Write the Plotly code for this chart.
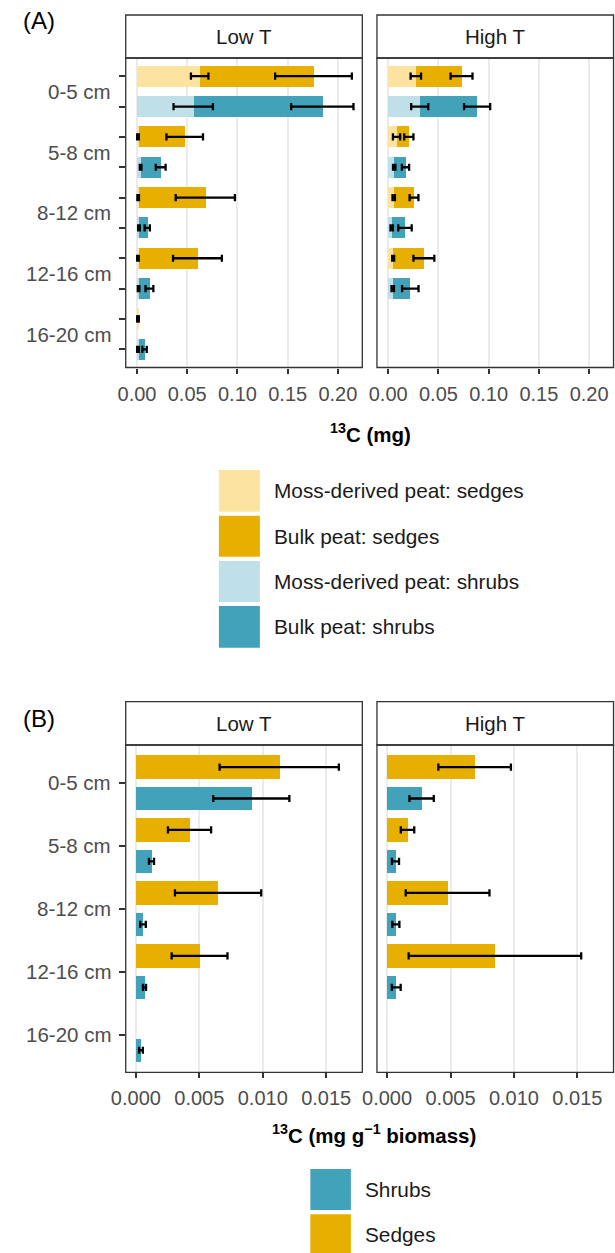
import plotly.graph_objects as go

W, H = 615, 1253

depths = ["0-5 cm", "5-8 cm", "8-12 cm", "12-16 cm", "16-20 cm"]
temps = ["Low T", "High T"]

# ---- Panel A: 13C (mg) ----
moss_sedge_low = [0.0624, 0.0010, 0.0012, 0.0010, 0.0008]
moss_sedge_low_err = [0.0087, 0.0008, 0.0008, 0.0008, 0.0006]
bulk_sedge_low = [0.1757, 0.0475, 0.0680, 0.0602, 0.0013]
bulk_sedge_low_err = [0.0382, 0.0182, 0.0295, 0.0243, 0.0005]
moss_shrub_low = [0.0560, 0.0036, 0.0020, 0.0016, 0.0010]
moss_shrub_low_err = [0.0196, 0.0008, 0.0008, 0.0008, 0.0008]
bulk_shrub_low = [0.1845, 0.0236, 0.0102, 0.0124, 0.0075]
bulk_shrub_low_err = [0.0310, 0.0049, 0.0026, 0.0039, 0.0022]

moss_sedge_high = [0.0275, 0.0083, 0.0055, 0.0049, None]
moss_sedge_high_err = [0.0052, 0.0036, 0.0012, 0.0010, None]
bulk_sedge_high = [0.0730, 0.0205, 0.0257, 0.0355, None]
bulk_sedge_high_err = [0.0109, 0.0046, 0.0044, 0.0104, None]
moss_shrub_high = [0.0314, 0.0060, 0.0035, 0.0045, None]
moss_shrub_high_err = [0.0085, 0.0012, 0.0012, 0.0012, None]
bulk_shrub_high = [0.0885, 0.0172, 0.0167, 0.0220, None]
bulk_shrub_high_err = [0.0130, 0.0036, 0.0067, 0.0082, None]

# ---- Panel B: 13C (mg g-1 biomass) ----
shrubs_low = [0.00910, 0.00123, 0.00056, 0.00068, 0.00040]
shrubs_low_err = [0.00300, 0.00020, 0.00022, 0.00012, 0.00015]
sedges_low = [0.01130, 0.00423, 0.00648, 0.00502, None]
sedges_low_err = [0.00470, 0.00170, 0.00340, 0.00220, None]
shrubs_high = [0.00272, 0.00066, 0.00069, 0.00072, None]
shrubs_high_err = [0.00096, 0.00028, 0.00028, 0.00035, None]
sedges_high = [0.00690, 0.00161, 0.00477, 0.00850, None]
sedges_high_err = [0.00286, 0.00053, 0.00330, 0.00680, None]

ticks_A = [0.0, 0.05, 0.10, 0.15, 0.20]
ticks_B = [0.0, 0.005, 0.010, 0.015]

C_SED = "#E7B000"
C_SED_L = "#FCE4A0"
C_SHR = "#42A2BA"
C_SHR_L = "#BFE0E9"
LEG_A = [("Moss-derived peat: sedges", C_SED_L), ("Bulk peat: sedges", C_SED),
         ("Moss-derived peat: shrubs", C_SHR_L), ("Bulk peat: shrubs", C_SHR)]
LEG_B = [("Shrubs", C_SHR), ("Sedges", C_SED)]

FONT = "Liberation Sans, Arial, sans-serif"
GREY_TXT = "#4D4D4D"
BORDER = "#333333"
FS = 20.5
FS_TICK = 20
FS_LEG = 20.8


def px(x):
    return x / W


def py(y):
    return 1 - y / H


def clean(xs, ys, es=None):
    out = [(x, y, (es[i] if es else None)) for i, (x, y) in enumerate(zip(xs, ys)) if x is not None]
    return [o[0] for o in out], [o[1] for o in out], [o[2] for o in out]


fig = go.Figure()


def add_bar(vals, rows, color, xa, ya, width):
    x, y, _ = clean(vals, rows)
    fig.add_trace(go.Bar(x=x, y=y, orientation="h", width=width, marker=dict(color=color, line=dict(width=0)),
                         opacity=1, xaxis=xa, yaxis=ya, showlegend=False, hoverinfo="x"))


def add_err(vals, rows, errs, xa, ya):
    x, y, e = clean(vals, rows, errs)
    fig.add_trace(go.Scatter(x=x, y=y, mode="markers", marker=dict(size=1, opacity=0),
                             error_x=dict(type="data", array=e, visible=True, color="black", thickness=2.3, width=3.6),
                             xaxis=xa, yaxis=ya, showlegend=False, hoverinfo="skip"))


rows_sed_A = [2 * i for i in range(5)]
rows_shr_A = [2 * i + 1 for i in range(5)]
wA = 0.69

for (bs, bse, ms, mse, bh, bhe, mh, mhe, xa, ya) in [
    (bulk_sedge_low, bulk_sedge_low_err, moss_sedge_low, moss_sedge_low_err,
     bulk_shrub_low, bulk_shrub_low_err, moss_shrub_low, moss_shrub_low_err, "x", "y"),
    (bulk_sedge_high, bulk_sedge_high_err, moss_sedge_high, moss_sedge_high_err,
     bulk_shrub_high, bulk_shrub_high_err, moss_shrub_high, moss_shrub_high_err, "x2", "y2")]:
    add_bar(bs, rows_sed_A, C_SED, xa, ya, wA)
    add_bar(bh, rows_shr_A, C_SHR, xa, ya, wA)
    add_bar(ms, rows_sed_A, C_SED_L, xa, ya, wA)
    add_bar(mh, rows_shr_A, C_SHR_L, xa, ya, wA)
    add_err(ms, rows_sed_A, mse, xa, ya)
    add_err(bs, rows_sed_A, bse, xa, ya)
    add_err(mh, rows_shr_A, mhe, xa, ya)
    add_err(bh, rows_shr_A, bhe, xa, ya)

rows_sed_B = [i - 0.25 for i in range(5)]
rows_shr_B = [i + 0.25 for i in range(5)]
wB = 0.37
for (sd, sde, sh, she, xa, ya) in [(sedges_low, sedges_low_err, shrubs_low, shrubs_low_err, "x3", "y3"),
                                   (sedges_high, sedges_high_err, shrubs_high, shrubs_high_err, "x4", "y4")]:
    add_bar(sd, rows_sed_B, C_SED, xa, ya, wB)
    add_bar(sh, rows_shr_B, C_SHR, xa, ya, wB)
    add_err(sd, rows_sed_B, sde, xa, ya)
    add_err(sh, rows_shr_B, she, xa, ya)

# geometry (pixels)
XL = (113.5, 356.0)
XH = (371.0, 613.5)
A_STRIP = (15.0, 58.0)
A_PLOT = (58.0, 367.5)
B_STRIP = (701.7, 745.0)
B_PLOT = (745.0, 1072.3)


def xaxis(dom, anchor, rng, ticks, fmt):
    return dict(domain=[px(dom[0]), px(dom[1])], anchor=anchor, range=rng, tickvals=ticks,
                ticktext=[fmt.format(t) for t in ticks], ticks="outside", ticklen=5, tickwidth=1.6,
                tickcolor=BORDER, showgrid=True, gridcolor="#EBEBEB", gridwidth=1.5, zeroline=False,
                showline=False, tickfont=dict(family=FONT, size=FS_TICK, color=GREY_TXT), ticklabelstandoff=3,
                fixedrange=True)


def yaxis(dom, anchor, rng, tv, show_ticks):
    return dict(domain=[py(dom[1]), py(dom[0])], anchor=anchor, range=rng, tickvals=tv,
                showticklabels=False, ticks="outside" if show_ticks else "", ticklen=6, tickwidth=1.6,
                tickcolor=BORDER, showgrid=False, zeroline=False, showline=False, fixedrange=True)


rA = [-0.0112, 0.2243]
rB = [-0.0008, 0.01785]
fig.update_layout(
    xaxis=xaxis(XL, "y", rA, ticks_A, "{:.2f}"),
    xaxis2=xaxis(XH, "y2", rA, ticks_A, "{:.2f}"),
    xaxis3=xaxis(XL, "y3", rB, ticks_B, "{:.3f}"),
    xaxis4=xaxis(XH, "y4", rB, ticks_B, "{:.3f}"),
    yaxis=yaxis(A_PLOT, "x", [9.6, -0.6], list(range(10)), True),
    yaxis2=yaxis(A_PLOT, "x2", [9.6, -0.6], list(range(10)), False),
    yaxis3=yaxis(B_PLOT, "x3", [4.6, -0.6], list(range(5)), True),
    yaxis4=yaxis(B_PLOT, "x4", [4.6, -0.6], list(range(5)), False),
)

shapes = []
annotations = []
for strip, plot in [(A_STRIP, A_PLOT), (B_STRIP, B_PLOT)]:
    for (xd, lab) in [(XL, "Low T"), (XH, "High T")]:
        shapes.append(dict(type="rect", xref="paper", yref="paper", x0=px(xd[0]), x1=px(xd[1]),
                           y0=py(strip[1]), y1=py(strip[0]), fillcolor="white",
                           line=dict(color=BORDER, width=1.3), layer="above"))
        shapes.append(dict(type="rect", xref="paper", yref="paper", x0=px(xd[0]), x1=px(xd[1]),
                           y0=py(plot[1]), y1=py(plot[0]), fillcolor="rgba(0,0,0,0)",
                           line=dict(color=BORDER, width=1.3), layer="above"))
        annotations.append(dict(text=lab, xref="paper", yref="paper", x=px((xd[0] + xd[1]) / 2),
                                y=py((strip[0] + strip[1]) / 2), showarrow=False, xanchor="center",
                                yanchor="middle", font=dict(family=FONT, size=FS, color="#1A1A1A")))

# depth labels
for i, d in enumerate(depths):
    annotations.append(dict(text=d, xref="paper", yref="y", x=px(100), y=2 * i + 0.5, showarrow=False,
                            xanchor="right", yanchor="middle", font=dict(family=FONT, size=FS, color=GREY_TXT)))
    annotations.append(dict(text=d, xref="paper", yref="y3", x=px(100), y=i, showarrow=False,
                            xanchor="right", yanchor="middle", font=dict(family=FONT, size=FS, color=GREY_TXT)))

# panel labels
for lab, yc in [("(A)", 20.7), ("(B)", 718.3)]:
    annotations.append(dict(text=lab, xref="paper", yref="paper", x=px(6), y=py(yc), showarrow=False,
                            xanchor="left", yanchor="middle", font=dict(family=FONT, size=24, color="black")))

# axis titles
annotations.append(dict(text="<b><sup>13</sup>C (mg)</b>", xref="paper", yref="paper", x=px(364), y=py(433),
                        showarrow=False, xanchor="center", yanchor="middle",
                        font=dict(family=FONT, size=FS, color="black")))
annotations.append(dict(text="<b><sup>13</sup>C (mg g<sup>\u22121</sup> biomass)</b>", xref="paper", yref="paper",
                        x=px(367.6), y=py(1134.3), showarrow=False, xanchor="center", yanchor="middle",
                        font=dict(family=FONT, size=FS, color="black")))

# legends
legA_boxes = [(470.0, 511.7), (515.7, 556.7), (561.0, 602.0), (606.0, 647.7)]
for (lab, col), (y0, y1) in zip(LEG_A, legA_boxes):
    shapes.append(dict(type="rect", xref="paper", yref="paper", x0=px(209), x1=px(251), y0=py(y1), y1=py(y0),
                       fillcolor=col, line=dict(width=0)))
    annotations.append(dict(text=lab, xref="paper", yref="paper", x=px(263), y=py((y0 + y1) / 2),
                            showarrow=False, xanchor="left", yanchor="middle",
                            font=dict(family=FONT, size=FS_LEG, color="#1A1A1A")))
legB_boxes = [(1169.0, 1210.0), (1214.3, 1255.5)]
for (lab, col), (y0, y1) in zip(LEG_B, legB_boxes):
    shapes.append(dict(type="rect", xref="paper", yref="paper", x0=px(302.7), x1=px(344.3), y0=py(y1),
                       y1=py(y0), fillcolor=col, line=dict(width=0)))
    annotations.append(dict(text=lab, xref="paper", yref="paper", x=px(356.7), y=py((y0 + y1) / 2),
                            showarrow=False, xanchor="left", yanchor="middle",
                            font=dict(family=FONT, size=FS_LEG, color="#1A1A1A")))

fig.update_layout(width=W, height=H, margin=dict(l=0, r=0, t=0, b=0), paper_bgcolor="white",
                  plot_bgcolor="white", barmode="overlay", bargap=0, shapes=shapes, annotations=annotations,
                  showlegend=False, font=dict(family=FONT))

fig.write_html("out.html", config={"displayModeBar": False},
               post_script="document.body.style.margin='0';document.body.style.overflow='hidden';")
